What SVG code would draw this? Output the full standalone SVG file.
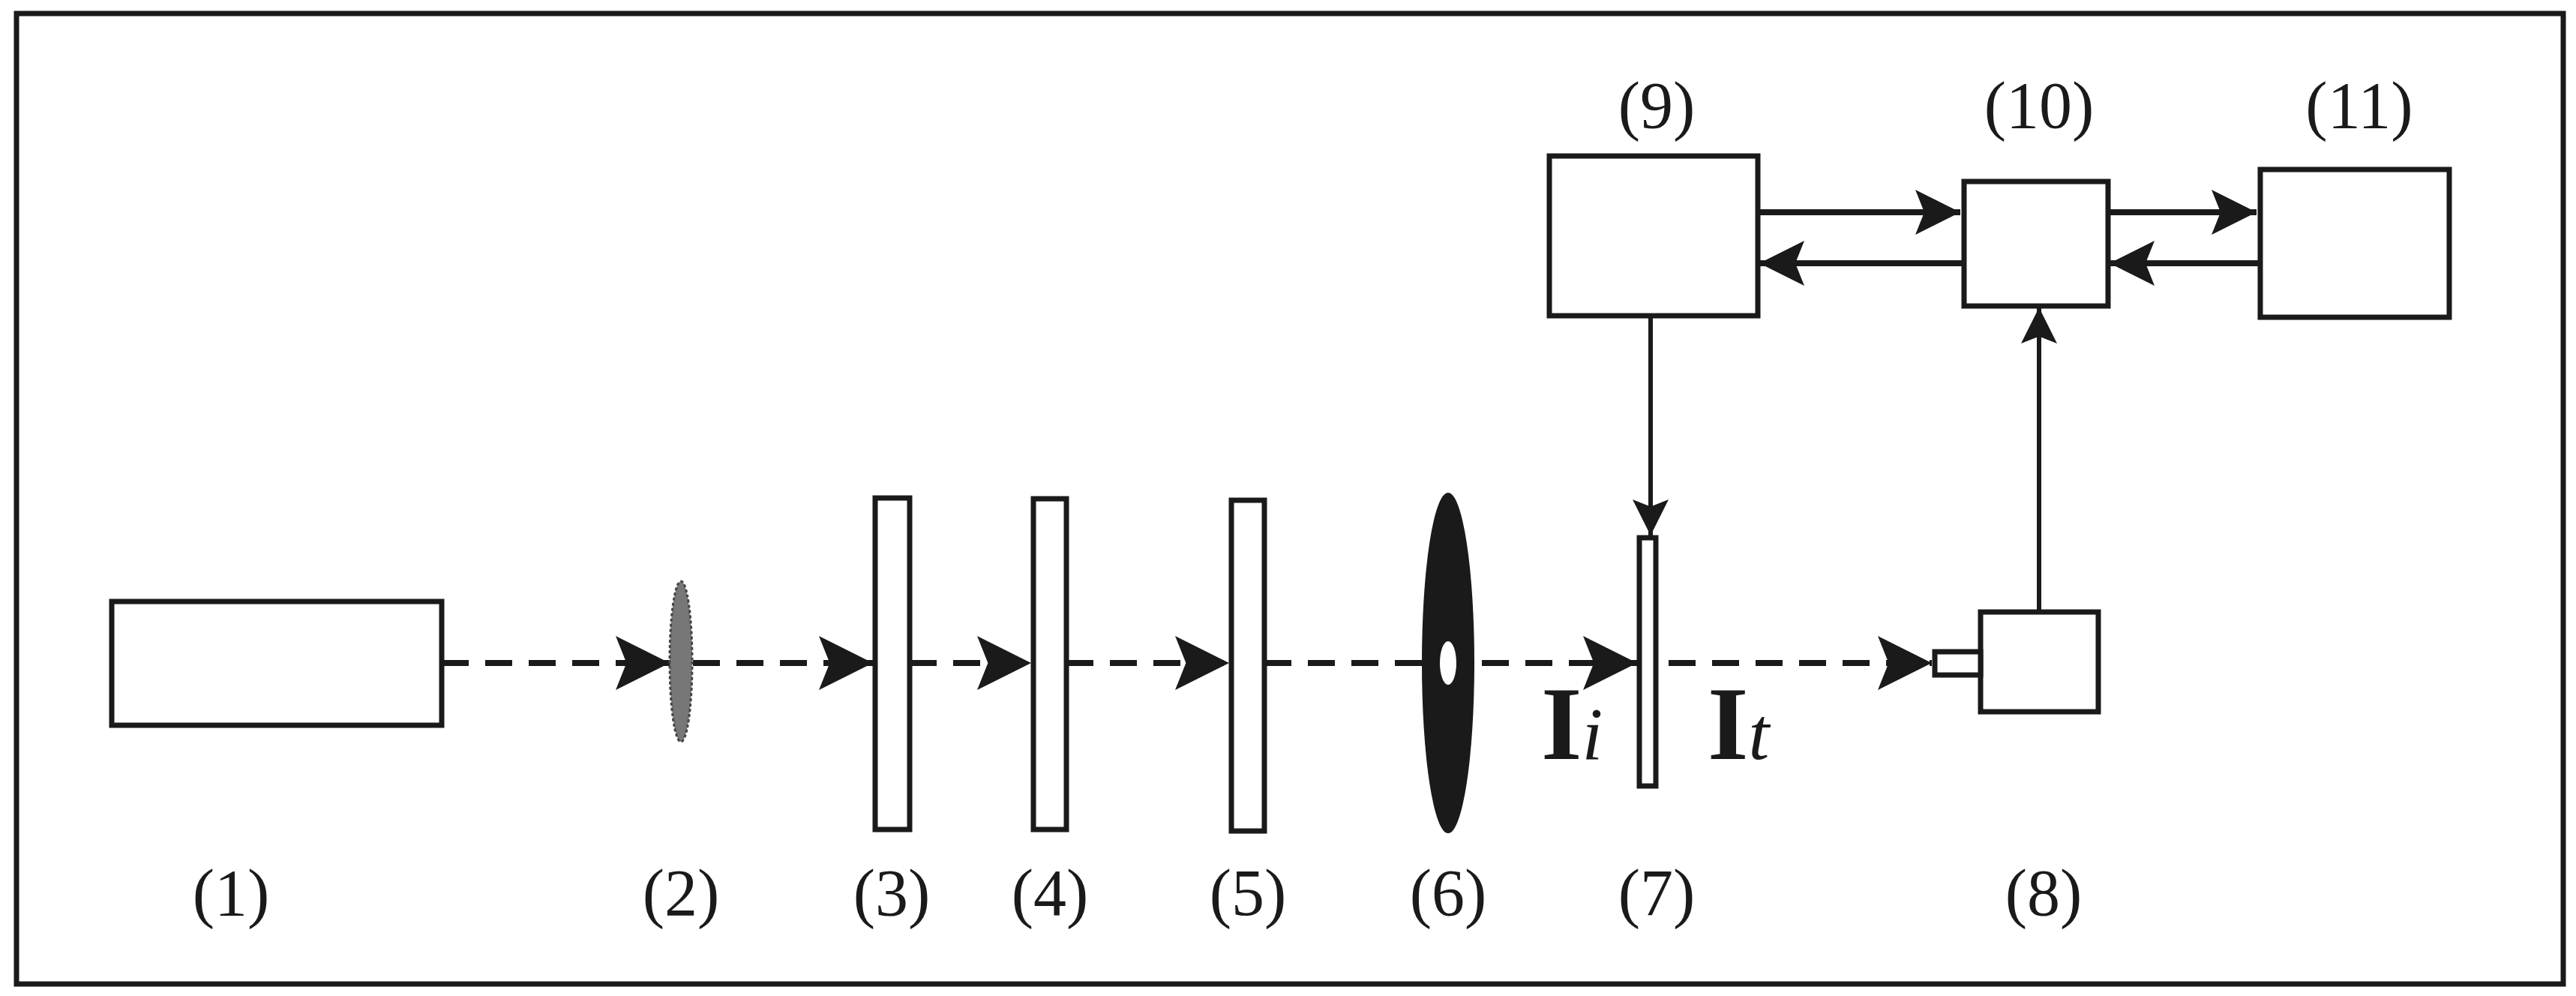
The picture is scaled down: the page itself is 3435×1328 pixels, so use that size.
<svg xmlns="http://www.w3.org/2000/svg" width="3435" height="1328" viewBox="0 0 3435 1328">
<style>
.b{fill:#fff;stroke:#1a1a1a;stroke-width:7}
.l{font-family:"Liberation Serif",serif;font-size:88px;fill:#1a1a1a;text-anchor:middle}
.d{stroke:#1a1a1a;stroke-width:8;stroke-dasharray:36,22;fill:none}
.s{stroke:#1a1a1a;stroke-width:6;fill:none}
.s2{stroke:#1a1a1a;stroke-width:8;fill:none}
</style>
<defs>
<marker id="a" viewBox="0 0 10 10" refX="10" refY="5" markerWidth="9" markerHeight="9" markerUnits="strokeWidth" orient="auto"><path d="M0,0 L10,5 L0,10 L2,5 Z" fill="#1a1a1a"/></marker>
<marker id="a2" viewBox="0 0 10 10" refX="10" refY="5" markerWidth="7.5" markerHeight="8" markerUnits="strokeWidth" orient="auto"><path d="M0,0 L10,5 L0,10 L2,5 Z" fill="#1a1a1a"/></marker>
<marker id="a3" viewBox="0 0 10 10" refX="10" refY="5" markerWidth="11" markerHeight="8" markerUnits="strokeWidth" orient="auto"><path d="M0,0 L10,5 L0,10 L2,5 Z" fill="#1a1a1a"/></marker>
</defs>
<rect x="0" y="0" width="3435" height="1328" fill="#fff"/>
<rect x="22" y="18" width="3396" height="1294" fill="none" stroke="#1a1a1a" stroke-width="7"/>
<g id="connectors">
<line class="d" x1="589" y1="884" x2="893" y2="884" marker-end="url(#a)"/>
<line class="d" x1="924" y1="884" x2="1164" y2="884" marker-end="url(#a)"/>
<line class="d" x1="1213" y1="884" x2="1375" y2="884" marker-end="url(#a)"/>
<line class="d" x1="1422" y1="884" x2="1639" y2="884" marker-end="url(#a)"/>
<line class="d" x1="1686" y1="884" x2="2183" y2="884" marker-end="url(#a)"/>
<line class="d" x1="2225" y1="884" x2="2576" y2="884" marker-end="url(#a)"/>
<line class="s" x1="2201" y1="423" x2="2201" y2="714" marker-end="url(#a3)"/>
<line class="s" x1="2719" y1="814" x2="2719" y2="410" marker-end="url(#a3)"/>
<line class="s2" x1="2344" y1="283" x2="2614" y2="283" marker-end="url(#a2)"/>
<line class="s2" x1="2616" y1="351" x2="2346" y2="351" marker-end="url(#a2)"/>
<line class="s2" x1="2811" y1="283" x2="3009" y2="283" marker-end="url(#a2)"/>
<line class="s2" x1="3011" y1="351" x2="2813" y2="351" marker-end="url(#a2)"/>
</g>
<g id="n1"><rect class="b" x="149" y="802" width="440" height="165"/><text class="l" x="308" y="1220">(1)</text></g>
<g id="n2"><ellipse cx="908" cy="882" rx="15" ry="107" fill="#777" stroke="#444" stroke-width="3" stroke-dasharray="4,3"/><text class="l" x="908" y="1220">(2)</text></g>
<g id="n3"><rect class="b" x="1167" y="664" width="46" height="442"/><text class="l" x="1189" y="1220">(3)</text></g>
<g id="n4"><rect class="b" x="1378" y="665" width="44" height="441"/><text class="l" x="1400" y="1220">(4)</text></g>
<g id="n5"><rect class="b" x="1642" y="667" width="44" height="441"/><text class="l" x="1664" y="1220">(5)</text></g>
<g id="n6"><ellipse cx="1931" cy="884" rx="35" ry="227" fill="#1a1a1a"/><ellipse cx="1931" cy="884" rx="11" ry="29" fill="#fff"/><text class="l" x="1931" y="1220">(6)</text></g>
<g id="n7"><rect class="b" x="2186" y="717" width="22" height="331" stroke-width="6"/><text class="l" x="2209" y="1220">(7)</text>
<text x="2055" y="1012" font-family="Liberation Serif,serif" font-size="140" font-weight="bold" fill="#1a1a1a">I<tspan font-size="100" font-style="italic" font-weight="normal">i</tspan></text>
<text x="2277" y="1012" font-family="Liberation Serif,serif" font-size="140" font-weight="bold" fill="#1a1a1a">I<tspan font-size="100" font-style="italic" font-weight="normal">t</tspan></text></g>
<g id="n8"><rect class="b" x="2641" y="816" width="157" height="133"/><rect class="b" x="2580" y="869" width="61" height="31"/><text class="l" x="2725" y="1220">(8)</text></g>
<g id="n9"><rect class="b" x="2066" y="208" width="278" height="213"/><text class="l" x="2209" y="170">(9)</text></g>
<g id="n10"><rect class="b" x="2619" y="242" width="192" height="166"/><text class="l" x="2719" y="170">(10)</text></g>
<g id="n11"><rect class="b" x="3014" y="226" width="252" height="197"/><text class="l" x="3146" y="170">(11)</text></g>
</svg>
